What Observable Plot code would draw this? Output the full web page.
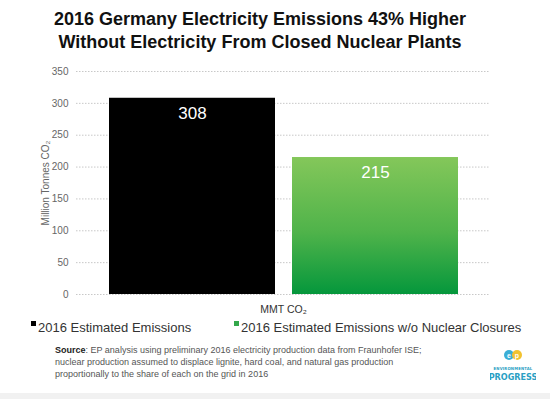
<!DOCTYPE html>
<html>
<head>
<meta charset="utf-8">
<script src="https://cdn.jsdelivr.net/npm/d3@7"></script>
<script src="https://cdn.jsdelivr.net/npm/@observablehq/plot@0.6"></script>
<style>
  body { margin: 0; background: #fff; font-family: "Liberation Sans", Arial, sans-serif; }
  #wrap { position: relative; width: 550px; height: 399px; overflow: hidden; }
  #title { position: absolute; left: 0; top: 8px; width: 520px; text-align: center; font-weight: bold; font-size: 18px; line-height: 23px; color: #111; }
  #chart { position: absolute; left: 0; top: 58px; }
  .leg { position: absolute; top: 320px; font-size: 13px; color: #333; white-space: nowrap; }
  .sw { display: inline-block; width: 5px; height: 5px; vertical-align: 6px; margin-right: 2px; }
  #source { position: absolute; left: 55px; top: 345px; font-size: 9px; line-height: 11.8px; color: #555; white-space: nowrap; }
  #source b { color: #222; }
  #logo { position: absolute; left: 490px; top: 349px; width: 46px; text-align: center; }
  #strip { position: absolute; left: 0; top: 393px; width: 550px; height: 6px; background: #f1f1f1; }
</style>
</head>
<body>
<div id="wrap">
  <div id="title">2016 Germany Electricity Emissions 43% Higher<br>Without Electricity From Closed Nuclear Plants</div>
  <div id="chart"></div>
  <div id="legend"></div>
  <div id="source"><b>Source</b>: EP analysis using preliminary 2016 electricity production data from Fraunhofer ISE;<br>nuclear production assumed to displace lignite, hard coal, and natural gas production<br>proportionally to the share of each on the grid in 2016</div>
  <div id="logo">
    <svg width="46" height="34" viewBox="0 0 46 34">
      <circle cx="19" cy="6" r="5" fill="#3aaed6"/>
      <circle cx="27" cy="6" r="5" fill="#f2c230"/>
      <text x="19" y="8.5" font-size="7" font-weight="bold" fill="#fff" text-anchor="middle" font-family="Liberation Sans">e</text>
      <text x="27" y="8.5" font-size="7" font-weight="bold" fill="#fff" text-anchor="middle" font-family="Liberation Sans">p</text>
      <text x="23" y="21" font-size="4.2" font-weight="bold" fill="#2a9fc4" text-anchor="middle" font-family="DejaVu Sans Condensed" letter-spacing="0.2">ENVIRONMENTAL</text>
      <text x="23" y="31" font-size="9" font-weight="bold" fill="#2a9fc4" text-anchor="middle" font-family="DejaVu Sans Condensed">PROGRESS</text>
    </svg>
  </div>
  <div id="strip"></div>
</div>
<script>
const category = "MMT CO₂";
const series = ["2016 Estimated Emissions", "2016 Estimated Emissions w/o Nuclear Closures"];
const values = [308, 215];
const yTicks = [0, 50, 100, 150, 200, 250, 300, 350];
const yLabel = "Million Tonnes CO₂";
const seriesColors = ["#000000", "url(#greenGrad)"];
const legendColors = ["#000000", "#33a84a"];

const data = series.map((s, i) => ({category, series: s, value: values[i]}));

const plot = Plot.plot({
  width: 550,
  height: 258,
  marginTop: 13,
  marginBottom: 22,
  marginLeft: 76,
  marginRight: 60,
  style: {fontFamily: "'Liberation Sans', Arial, sans-serif", background: "transparent"},
  fx: {domain: [category], paddingInner: 0, paddingOuter: 0, label: null, axis: null},
  x: {domain: series, paddingInner: 0.093, paddingOuter: 0.175, axis: null},
  y: {domain: [0, 350], axis: null},
  color: {type: "ordinal", domain: series, range: seriesColors},
  marks: [
    Plot.gridY(yTicks, {stroke: "#c8c8c8", strokeOpacity: 1, strokeDasharray: "1.5,1.5"}),
    Plot.axisY(yTicks, {tickSize: 0, tickPadding: 8, fontSize: 10, color: "#666", label: yLabel, labelAnchor: "center", labelOffset: 35, labelArrow: "none"}),
    Plot.axisFx({anchor: "bottom", tickSize: 0, tickPadding: 11, fontSize: 10.5, color: "#333", label: null}),
    Plot.barY(data, {fx: "category", x: "series", y: "value", fill: "series"}),
    Plot.text(data, {fx: "category", x: "series", y: "value", text: d => String(d.value), dy: 15, fill: "white", fontSize: 17})
  ]
});

const svg = d3.select(plot);
const defs = svg.insert("defs", ":first-child");
const grad = defs.append("linearGradient").attr("id", "greenGrad").attr("x1", 0).attr("y1", 0).attr("x2", 0).attr("y2", 1);
grad.append("stop").attr("offset", "0%").attr("stop-color", "#84c75a");
grad.append("stop").attr("offset", "55%").attr("stop-color", "#4fb34a");
grad.append("stop").attr("offset", "100%").attr("stop-color", "#05973c");
document.getElementById("chart").appendChild(plot);

const legendLeft = [31, 234];
const leg = d3.select("#legend");
series.forEach((s, i) => {
  const d = leg.append("div").attr("class", "leg").style("left", legendLeft[i] + "px");
  d.append("span").attr("class", "sw").style("background", legendColors[i]);
  d.append("span").text(s);
});
</script>
</body>
</html>
